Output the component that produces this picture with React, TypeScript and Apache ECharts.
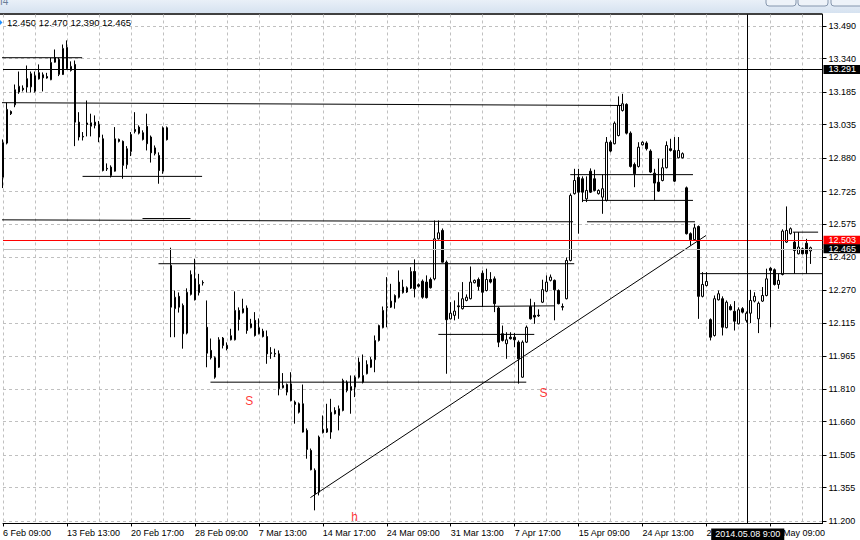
import React, { useEffect, useRef } from 'react';
import * as echarts from 'echarts';

// x axis: one slot per H4 bar, labels every 16 bars
const barSlots = 206;
const categories = Array.from({ length: barSlots }, (_, i) => String(i));
const xTickLabels = [
  '6 Feb 09:00', '13 Feb 13:00', '20 Feb 17:00', '28 Feb 09:00', '7 Mar 13:00',
  '14 Mar 17:00', '24 Mar 09:00', '31 Mar 13:00', '7 Apr 17:00', '15 Apr 09:00',
  '24 Apr 13:00', '2 May 17:00', '12 May 09:00',
];
const yTickValues = [
  11.2, 11.355, 11.505, 11.66, 11.81, 11.965, 12.115, 12.27, 12.42, 12.575,
  12.725, 12.88, 13.035, 13.185, 13.34, 13.49,
];

// candles: [open, close, low, high]
const candles = [
  [12.791, 12.951, 12.741, 12.966], [12.949, 13.105, 12.943, 13.136], [13.095, 13.085, 13.079, 13.100],
  [13.126, 13.196, 13.115, 13.220], [13.185, 13.212, 13.177, 13.280], [13.203, 13.196, 13.188, 13.216],
  [13.247, 13.208, 13.183, 13.308], [13.209, 13.270, 13.183, 13.280], [13.260, 13.189, 13.183, 13.280],
  [13.246, 13.275, 13.243, 13.313], [13.265, 13.251, 13.188, 13.276], [13.257, 13.250, 13.247, 13.274],
  [13.242, 13.322, 13.240, 13.343], [13.323, 13.345, 13.321, 13.382], [13.336, 13.267, 13.259, 13.344],
  [13.266, 13.387, 13.264, 13.405], [13.391, 13.294, 13.290, 13.424], [13.285, 13.304, 13.280, 13.327],
  [13.313, 13.046, 12.935, 13.331], [13.046, 12.977, 12.961, 13.092], [12.980, 12.977, 12.961, 13.000],
  [13.042, 13.035, 12.980, 13.146], [13.027, 13.043, 12.980, 13.085], [13.046, 13.031, 13.017, 13.077],
  [13.035, 12.977, 12.953, 13.051], [12.969, 12.822, 12.818, 12.988], [12.832, 12.829, 12.820, 12.855],
  [12.799, 12.838, 12.790, 12.846], [12.819, 12.969, 12.817, 13.023], [12.966, 12.957, 12.952, 12.970],
  [12.957, 12.846, 12.784, 12.961], [12.849, 12.923, 12.830, 12.935], [12.910, 12.989, 12.889, 13.000],
  [13.012, 13.003, 12.994, 13.092], [13.023, 12.995, 12.989, 13.031], [12.997, 12.966, 12.961, 13.008],
  [13.026, 12.946, 12.915, 13.085], [12.977, 12.904, 12.859, 12.984], [12.900, 12.927, 12.892, 12.938],
  [12.892, 12.822, 12.761, 12.906], [12.819, 13.020, 12.807, 13.026], [13.020, 12.965, 12.961, 13.026],
  [12.383, 12.190, 12.051, 12.465], [12.183, 12.236, 12.051, 12.267], [12.240, 12.190, 12.165, 12.258],
  [12.198, 12.067, 11.998, 12.207], [12.070, 12.259, 12.064, 12.277], [12.249, 12.341, 12.244, 12.360],
  [12.321, 12.224, 12.221, 12.414], [12.257, 12.295, 12.244, 12.344], [12.304, 12.302, 12.290, 12.314],
  [12.097, 11.977, 11.912, 12.221], [11.990, 11.956, 11.948, 12.045], [11.956, 11.866, 11.859, 11.962],
  [11.912, 12.039, 11.909, 12.051], [12.047, 12.013, 11.999, 12.052], [12.013, 11.998, 11.990, 12.027],
  [12.039, 12.058, 12.036, 12.090], [12.039, 12.175, 12.036, 12.263], [12.175, 12.133, 12.082, 12.189],
  [12.164, 12.183, 12.161, 12.229], [12.186, 12.082, 12.067, 12.198], [12.095, 12.113, 12.092, 12.136],
  [12.129, 12.059, 12.054, 12.167], [12.067, 12.095, 12.064, 12.138], [12.079, 12.054, 12.050, 12.090],
  [12.054, 11.974, 11.928, 12.082], [11.979, 11.976, 11.951, 12.005], [11.976, 11.973, 11.959, 11.998],
  [11.974, 11.813, 11.782, 11.990], [11.817, 11.828, 11.814, 11.885], [11.832, 11.797, 11.782, 11.837],
  [11.835, 11.758, 11.754, 11.889], [11.751, 11.740, 11.651, 11.758], [11.743, 11.704, 11.698, 11.749],
  [11.743, 11.612, 11.610, 11.832], [11.620, 11.532, 11.489, 11.629], [11.527, 11.438, 11.435, 11.536],
  [11.435, 11.327, 11.250, 11.444], [11.334, 11.589, 11.319, 11.596], [11.609, 11.624, 11.606, 11.689],
  [11.628, 11.612, 11.608, 11.743], [11.612, 11.704, 11.581, 11.766], [11.712, 11.697, 11.694, 11.727],
  [11.689, 11.720, 11.620, 11.735], [11.712, 11.851, 11.708, 11.859], [11.843, 11.805, 11.796, 11.851],
  [11.805, 11.823, 11.697, 11.874], [11.820, 11.866, 11.774, 11.874], [11.866, 11.936, 11.860, 11.957],
  [11.843, 11.874, 11.837, 11.971], [11.882, 11.925, 11.879, 11.944], [11.912, 11.947, 11.909, 11.959],
  [11.947, 12.036, 11.889, 12.059], [12.036, 12.105, 12.031, 12.109], [12.095, 12.175, 12.092, 12.193],
  [12.192, 12.189, 12.097, 12.329], [12.190, 12.218, 12.186, 12.298], [12.213, 12.244, 12.183, 12.249],
  [12.306, 12.236, 12.230, 12.360], [12.257, 12.283, 12.253, 12.317], [12.260, 12.280, 12.256, 12.286],
  [12.278, 12.355, 12.274, 12.375], [12.355, 12.275, 12.235, 12.411], [12.294, 12.287, 12.281, 12.300],
  [12.310, 12.236, 12.229, 12.318], [12.306, 12.234, 12.230, 12.337], [12.318, 12.280, 12.276, 12.327],
  [12.321, 12.506, 12.314, 12.591], [12.506, 12.534, 12.503, 12.591], [12.545, 12.398, 12.397, 12.554],
  [12.398, 12.132, 11.882, 12.406], [12.136, 12.162, 12.133, 12.213], [12.152, 12.172, 12.129, 12.221],
  [12.196, 12.192, 12.136, 12.259], [12.183, 12.229, 12.179, 12.306], [12.221, 12.236, 12.217, 12.249],
  [12.229, 12.306, 12.226, 12.378], [12.303, 12.314, 12.300, 12.318], [12.318, 12.286, 12.267, 12.327],
  [12.347, 12.259, 12.190, 12.360], [12.267, 12.318, 12.263, 12.368], [12.318, 12.306, 12.300, 12.352],
  [12.321, 12.206, 12.167, 12.332], [12.186, 12.028, 12.005, 12.193], [12.067, 12.036, 12.031, 12.105],
  [12.021, 12.039, 11.951, 12.074], [12.051, 12.044, 12.040, 12.074], [12.051, 12.039, 12.005, 12.070],
  [12.028, 11.951, 11.836, 12.036], [11.866, 12.028, 11.863, 12.036], [12.028, 12.097, 12.024, 12.105],
  [12.193, 12.136, 12.133, 12.229], [12.152, 12.144, 12.113, 12.213], [12.153, 12.150, 12.145, 12.180],
  [12.213, 12.271, 12.209, 12.317], [12.264, 12.306, 12.260, 12.337], [12.314, 12.329, 12.309, 12.341],
  [12.314, 12.270, 12.129, 12.318], [12.267, 12.206, 12.203, 12.272], [12.193, 12.190, 12.175, 12.207],
  [12.229, 12.406, 12.226, 12.420], [12.406, 12.707, 12.402, 12.716], [12.715, 12.776, 12.711, 12.830],
  [12.791, 12.722, 12.530, 12.830], [12.784, 12.722, 12.676, 12.795], [12.691, 12.730, 12.676, 12.795],
  [12.819, 12.722, 12.718, 12.832], [12.784, 12.730, 12.725, 12.826], [12.715, 12.730, 12.711, 12.735],
  [12.699, 12.738, 12.622, 12.803], [12.684, 12.953, 12.679, 12.977], [12.953, 12.912, 12.906, 12.961],
  [12.946, 13.041, 12.943, 13.049], [12.984, 13.123, 12.980, 13.165], [13.100, 13.131, 13.095, 13.177],
  [13.128, 12.995, 12.989, 13.133], [12.995, 12.841, 12.836, 13.003], [12.850, 12.807, 12.745, 12.859],
  [12.841, 12.930, 12.836, 12.953], [12.941, 12.953, 12.938, 12.957], [12.949, 12.923, 12.915, 12.957],
  [12.912, 12.815, 12.811, 12.920], [12.810, 12.764, 12.684, 12.830], [12.768, 12.727, 12.723, 12.877],
  [12.776, 12.835, 12.772, 12.877], [12.835, 12.938, 12.832, 12.957], [12.923, 12.915, 12.910, 12.969],
  [12.915, 12.773, 12.769, 12.977], [12.881, 12.915, 12.878, 12.977], [12.881, 12.900, 12.878, 12.906],
  [12.742, 12.530, 12.526, 12.748], [12.530, 12.502, 12.475, 12.536], [12.502, 12.557, 12.499, 12.576],
  [12.563, 12.240, 12.136, 12.568], [12.240, 12.295, 12.235, 12.352], [12.290, 12.309, 12.286, 12.352],
  [12.132, 12.051, 12.036, 12.138], [12.059, 12.229, 12.054, 12.244], [12.224, 12.252, 12.221, 12.267],
  [12.229, 12.097, 12.059, 12.240], [12.095, 12.213, 12.092, 12.221], [12.193, 12.178, 12.175, 12.203],
  [12.171, 12.125, 12.082, 12.218], [12.113, 12.178, 12.110, 12.189], [12.183, 12.167, 12.161, 12.190],
  [12.129, 12.162, 12.119, 12.170], [12.162, 12.221, 12.116, 12.270], [12.218, 12.240, 12.212, 12.259],
  [12.136, 12.208, 12.070, 12.216], [12.218, 12.244, 12.214, 12.283], [12.244, 12.321, 12.240, 12.368],
  [12.370, 12.360, 12.097, 12.375], [12.363, 12.295, 12.290, 12.369], [12.295, 12.314, 12.275, 12.344],
  [12.341, 12.542, 12.337, 12.550], [12.491, 12.545, 12.487, 12.656], [12.530, 12.553, 12.526, 12.559],
  [12.491, 12.452, 12.345, 12.537], [12.437, 12.468, 12.434, 12.537], [12.460, 12.437, 12.434, 12.466],
  [12.486, 12.437, 12.345, 12.506], [12.450, 12.465, 12.390, 12.470],
];

// last bar quote shown top-left: open, high, low, close
const lastQuote = [12.45, 12.47, 12.39, 12.465];

// drawn horizontal segments: [fromBar, toBar, price]
const levelSegments = [
  [-0.6, 19.8, 13.344],
  [19.9, 49.8, 12.795],
  [34.9, 46.9, 12.6],
  [38.9, 142.9, 12.391],
  [51.9, 130.9, 11.843],
  [108.9, 132.9, 12.064],
  [141.9, 172.6, 12.803],
  [144.9, 172.6, 12.684],
  [146.1, 173.1, 12.585],
  [174.4, 204.9, 12.345],
  [197.6, 203.9, 12.537],
];
// drawn sloped lines: [fromBar, fromPrice, toBar, toPrice]
const slopedSegments = [
  [-0.6, 13.136, 154.9, 13.123],
  [-0.6, 12.594, 142.6, 12.585],
  [114.9, 12.193, 138.1, 12.196],
  [76.9, 11.309, 175.9, 12.522],
];
// price lines with axis tags
const priceTags = [
  { price: 13.291, line: '#000000', tag: '#000000' },
  { price: 12.503, line: '#ff0000', tag: '#ff0000' },
  { price: 12.465, line: '#c0c0c0', tag: '#000000' },
];
const cursorBar = 186.3;
const cursorLabel = '2014.05.08 9:00';
const marks = [
  { bar: 61.6, price: 11.756, text: 'S' },
  { bar: 135.2, price: 11.791, text: 'S' },
  { bar: 87.95, price: 11.219, text: 'h' },
];

const FONT = 'Liberation Sans, Arial, sans-serif';

export default function App() {
  const ref = useRef<HTMLDivElement>(null);
  useEffect(() => {
    if (!ref.current) return;
    const chart = echarts.init(ref.current, null, { renderer: 'svg' });
    const yMin = 11.18936;
    const yMax = 13.54408;
    const series: any[] = [
      {
        type: 'candlestick',
        xAxisIndex: 0,
        yAxisIndex: 0,
        data: candles,
        barWidth: 2,
        clip: false,
        silent: true,
        itemStyle: {
          color: '#ffffff', color0: '#000000',
          borderColor: '#000000', borderColor0: '#000000', borderWidth: 1,
        },
        markLine: {
          silent: true,
          symbol: ['none', 'none'],
          data: priceTags.map((t) => ({
            yAxis: t.price,
            lineStyle: { color: t.line, width: 1, type: 'solid' },
            label: {
              show: true, position: 'end', distance: 1,
              formatter: t.price.toFixed(3),
              backgroundColor: t.tag, color: '#ffffff',
              fontFamily: FONT, fontSize: 9, lineHeight: 9,
              padding: [0, 6, 0, 5],
            },
          })),
        },
      },
      ...levelSegments.map((s) => ({
        type: 'line', xAxisIndex: 1, yAxisIndex: 0, clip: false, silent: true,
        symbol: 'none', data: [[s[0], s[2]], [s[1], s[2]]],
        lineStyle: { color: '#000000', width: 1 },
      })),
      ...slopedSegments.map((s) => ({
        type: 'line', xAxisIndex: 1, yAxisIndex: 0, clip: false, silent: true,
        symbol: 'none', data: [[s[0], s[1]], [s[2], s[3]]],
        lineStyle: { color: '#000000', width: 1 },
      })),
      {
        type: 'line', xAxisIndex: 1, yAxisIndex: 0, data: [], silent: true,
        markLine: {
          silent: true, symbol: ['none', 'none'],
          data: [{ xAxis: cursorBar }],
          lineStyle: { color: '#000000', width: 1, type: 'solid' },
          label: {
            show: true, position: 'start', distance: 5, formatter: cursorLabel,
            backgroundColor: '#000000', color: '#ffffff', fontFamily: FONT,
            fontSize: 9, lineHeight: 10, padding: [1, 4, 1, 4],
          },
        },
      },
      {
        type: 'scatter', xAxisIndex: 1, yAxisIndex: 0, clip: false, silent: true,
        symbolSize: 1, itemStyle: { color: 'transparent' },
        data: marks.map((m) => ({ value: [m.bar, m.price], label: { formatter: m.text } })),
        label: { show: true, position: 'inside', color: '#ff0000', fontFamily: FONT, fontSize: 12 },
      },
    ];

    chart.setOption({
      animation: false,
      backgroundColor: '#ffffff',
      grid: { left: 2.5, top: 14.46, width: 820, height: 509, containLabel: false },
      xAxis: [
        {
          type: 'category', data: categories, boundaryGap: false,
          axisLine: { show: true, onZero: false, lineStyle: { color: '#000000', width: 1 } },
          axisTick: { show: true, interval: 15, length: 3, lineStyle: { color: '#000000' } },
          axisLabel: {
            interval: 15, align: 'left', margin: 5, color: '#000000', fontFamily: FONT, fontSize: 9,
            formatter: (v: string, i: number) => (i % 16 === 0 && xTickLabels[i / 16]) ? xTickLabels[i / 16] : '',
          },
          splitLine: { show: true, interval: 7, lineStyle: { color: '#c0c0c0', width: 1, type: [3, 3] } },
        },
        { type: 'value', min: 0, max: barSlots - 1, show: false },
      ],
      yAxis: {
        type: 'value', position: 'right', min: yMin, max: yMax,
        axisLine: { show: true, onZero: false, lineStyle: { color: '#000000', width: 1 } },
        axisTick: { show: true, length: 4, customValues: yTickValues, lineStyle: { color: '#000000' } },
        axisLabel: {
          customValues: yTickValues, margin: 6, color: '#000000', fontFamily: FONT, fontSize: 9,
          formatter: (v: number) => v.toFixed(3),
        },
        splitLine: { show: true, lineStyle: { color: '#c0c0c0', width: 1, type: [3, 3] } },
      },
      series,
      graphic: [
        {
          type: 'rect', shape: { x: 0, y: 0, width: 860, height: 13 },
          style: {
            fill: new echarts.graphic.LinearGradient(0, 0, 0, 1, [
              { offset: 0, color: '#e9f0f8' }, { offset: 1, color: '#d6e2f0' },
            ]),
          },
          silent: true,
        },
        { type: 'text', x: 0, y: -4, style: { text: 'I4', fill: '#6a7f99', fontFamily: FONT, fontSize: 10 }, silent: true },
        { type: 'rect', shape: { x: 766, y: -6, width: 30, height: 12, r: 3 }, style: { fill: '#eef3f9', stroke: '#8596ad' }, silent: true },
        { type: 'rect', shape: { x: 798, y: -6, width: 30, height: 12, r: 3 }, style: { fill: '#eef3f9', stroke: '#8596ad' }, silent: true },
        { type: 'rect', shape: { x: 831, y: -6, width: 32, height: 12, r: 3 }, style: { fill: '#eef3f9', stroke: '#8596ad' }, silent: true },
        { type: 'line', shape: { x1: 0, y1: 14, x2: 822.5, y2: 14 }, style: { stroke: '#000000', lineWidth: 1.5 }, silent: true },
        { type: 'polygon', shape: { points: [[0, 20], [2.5, 22.5], [0, 25]] }, style: { fill: '#1e90ff' }, silent: true },
        {
          type: 'text', x: 7, y: 22.7,
          style: {
            text: lastQuote.map((v) => v.toFixed(3)).join(' '), fill: '#000000',
            fontFamily: FONT, fontSize: 9.5, verticalAlign: 'middle',
          },
          silent: true,
        },
      ],
    });
    return () => chart.dispose();
  }, []);
  return <div ref={ref} style={{ position: 'fixed', left: 0, top: 0, width: 860, height: 540 }} />;
}
